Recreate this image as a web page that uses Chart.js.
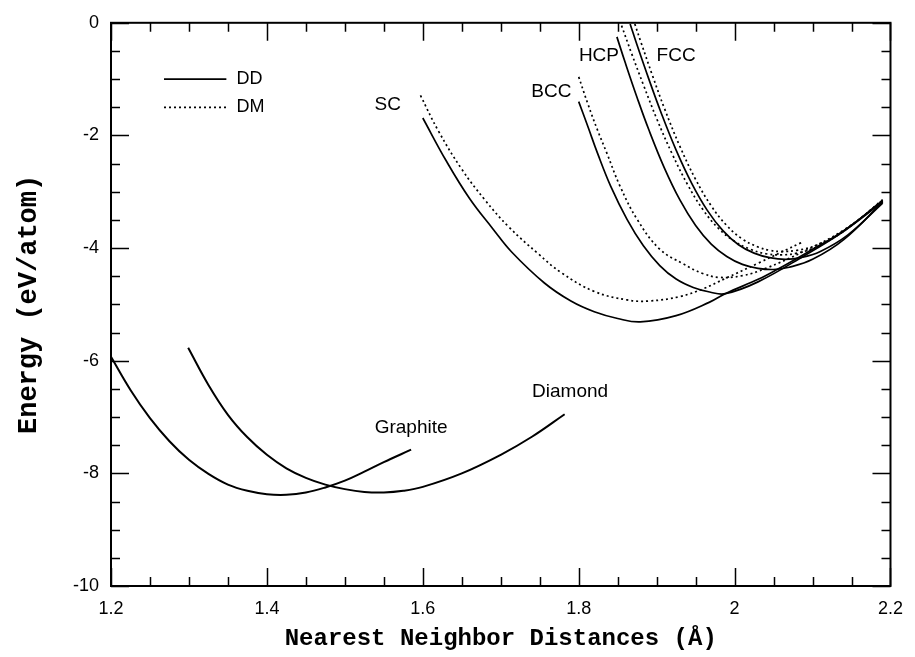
<!DOCTYPE html>
<html><head><meta charset="utf-8">
<script src="https://cdn.jsdelivr.net/npm/chart.js@4.4.1/dist/chart.umd.min.js"></script>
<style>html,body{margin:0;padding:0;background:#fff;} #wrap{width:915px;height:657px;}</style>
</head><body><div id="wrap"><canvas id="c" width="915" height="657"></canvas></div>
<script>
// ---- tick labels ----
const xTickValues = [1.2, 1.4, 1.6, 1.8, 2.0, 2.2];
const xTickLabels = ['1.2', '1.4', '1.6', '1.8', '2', '2.2'];
const yTickValues = [-10, -8, -6, -4, -2, 0];
const yTickLabels = ['-10', '-8', '-6', '-4', '-2', '0'];

// ---- curves (x = nearest neighbor distance, E = energy in eV/atom) ----
const graphiteX = [1.2, 1.225, 1.25, 1.275, 1.3, 1.325, 1.35, 1.375, 1.4, 1.425, 1.45, 1.475, 1.5, 1.525, 1.55, 1.585];
const graphiteE = [-5.93, -6.52, -7.02, -7.43, -7.76, -8.01, -8.2, -8.31, -8.37, -8.38, -8.34, -8.25, -8.13, -7.97, -7.8, -7.58];

const diamondX = [1.299, 1.325, 1.35, 1.375, 1.4, 1.425, 1.45, 1.475, 1.5, 1.525, 1.55, 1.575, 1.6, 1.65, 1.7, 1.74, 1.782];
const diamondE = [-5.77, -6.43, -6.96, -7.36, -7.67, -7.91, -8.08, -8.2, -8.28, -8.33, -8.34, -8.31, -8.24, -8.0, -7.67, -7.35, -6.95];

const scDDX = [1.6, 1.63, 1.66, 1.69, 1.714, 1.756, 1.79, 1.82, 1.85, 1.879, 1.925, 1.968, 1.988, 2.031, 2.052, 2.094, 2.137, 2.19];
const scDDE = [-1.69, -2.45, -3.12, -3.66, -4.07, -4.62, -4.94, -5.13, -5.25, -5.31, -5.2, -4.96, -4.81, -4.55, -4.4, -4.07, -3.72, -3.16];

const scDMX = [1.597, 1.62, 1.65, 1.68, 1.71, 1.748, 1.778, 1.82, 1.862, 1.89, 1.93, 1.96, 1.988, 2.03, 2.086];
const scDME = [-1.29, -1.92, -2.6, -3.15, -3.62, -4.1, -4.44, -4.77, -4.92, -4.94, -4.86, -4.72, -4.54, -4.27, -3.9];

const bccDDX = [1.8, 1.812, 1.824, 1.841, 1.862, 1.883, 1.904, 1.925, 1.947, 1.968, 1.988, 2.03, 2.09, 2.14, 2.19];
const bccDDE = [-1.4, -1.85, -2.31, -2.9, -3.49, -3.96, -4.31, -4.55, -4.7, -4.78, -4.81, -4.6, -4.13, -3.7, -3.18];

const bccDMX = [1.8, 1.812, 1.824, 1.836, 1.853, 1.875, 1.904, 1.934, 1.959, 1.98, 2.01, 2.04, 2.09, 2.14, 2.19];
const bccDME = [-0.96, -1.45, -1.9, -2.31, -2.9, -3.49, -4.02, -4.28, -4.45, -4.52, -4.49, -4.36, -4.05, -3.68, -3.16];

const hcpDDX = [1.849, 1.86, 1.875, 1.89, 1.91, 1.93, 1.95, 1.97, 1.99, 2.01, 2.03, 2.05, 2.07, 2.1, 2.14, 2.19];
const hcpDDE = [-0.25, -0.72, -1.33, -1.9, -2.58, -3.15, -3.6, -3.93, -4.15, -4.29, -4.36, -4.38, -4.34, -4.2, -3.85, -3.18];

const hcpDMX = [1.855, 1.868, 1.883, 1.9, 1.92, 1.94, 1.96, 1.98, 2.0, 2.02, 2.04, 2.06, 2.08, 2.105, 2.14, 2.19];
const hcpDME = [-0.05, -0.55, -1.1, -1.7, -2.33, -2.88, -3.33, -3.66, -3.88, -4.02, -4.1, -4.12, -4.09, -3.98, -3.7, -3.15];

const fccDDX = [1.866, 1.875, 1.89, 1.905, 1.925, 1.945, 1.965, 1.985, 2.005, 2.025, 2.045, 2.065, 2.085, 2.11, 2.145, 2.19];
const fccDDE = [-0.02, -0.4, -1.0, -1.57, -2.26, -2.85, -3.33, -3.69, -3.94, -4.09, -4.17, -4.2, -4.17, -4.06, -3.77, -3.2];

const fccDMX = [1.872, 1.88, 1.895, 1.91, 1.93, 1.95, 1.97, 1.99, 2.01, 2.03, 2.045, 2.06, 2.08, 2.105, 2.14, 2.19];
const fccDME = [-0.02, -0.35, -0.95, -1.52, -2.2, -2.78, -3.25, -3.6, -3.84, -3.98, -4.04, -4.06, -4.04, -3.95, -3.7, -3.14];

// ---- curve labels ----
const labelTexts = ['SC', 'BCC', 'HCP', 'FCC', 'Graphite', 'Diamond'];
const labelX = [1.555, 1.765, 1.826, 1.925, 1.585, 1.789];
const labelE = [-1.45, -1.22, -0.58, -0.58, -7.19, -6.56];

const legendTexts = ['DD', 'DM'];

function pts(xs, es) { return xs.map((x, i) => ({ x: x, y: es[i] })); }
const SOLID = [];
const DOTTED = [2, 3];
function ds(name, xs, es, dash, w) {
  return {
    label: name, data: pts(xs, es), showLine: true, borderColor: '#000',
    backgroundColor: '#000', borderWidth: w || 1.7, borderDash: dash,
    pointRadius: 0, pointHoverRadius: 0, tension: 0.4, fill: false
  };
}

const datasets = [
  ds('Graphite', graphiteX, graphiteE, SOLID, 2),
  ds('Diamond', diamondX, diamondE, SOLID, 2),
  ds('SC DD', scDDX, scDDE, SOLID),
  ds('SC DM', scDMX, scDME, DOTTED),
  ds('BCC DD', bccDDX, bccDDE, SOLID),
  ds('BCC DM', bccDMX, bccDME, DOTTED),
  ds('HCP DD', hcpDDX, hcpDDE, SOLID),
  ds('HCP DM', hcpDMX, hcpDME, DOTTED),
  ds('FCC DD', fccDDX, fccDDE, SOLID),
  ds('FCC DM', fccDMX, fccDME, DOTTED)
];

const framePlugin = {
  id: 'frame',
  afterDraw(chart) {
    const { ctx, chartArea: a, scales: { x, y } } = chart;
    ctx.save();
    ctx.strokeStyle = '#000';
    ctx.lineWidth = 2;
    ctx.strokeRect(a.left, a.top, a.right - a.left, a.bottom - a.top);
    ctx.lineWidth = 1.5;
    ctx.beginPath();
    for (let k = 0; k <= 20; k++) {
      const v = 1.2 + k * 0.05;
      const px = Math.round(x.getPixelForValue(v)) + 0.5;
      const len = (k % 4 === 0) ? 18 : 9;
      ctx.moveTo(px, a.bottom); ctx.lineTo(px, a.bottom - len);
      ctx.moveTo(px, a.top); ctx.lineTo(px, a.top + len);
    }
    for (let k = 0; k <= 20; k++) {
      const v = -10 + k * 0.5;
      const py = Math.round(y.getPixelForValue(v)) + 0.5;
      const len = (k % 4 === 0) ? 18 : 9;
      ctx.moveTo(a.left, py); ctx.lineTo(a.left + len, py);
      ctx.moveTo(a.right, py); ctx.lineTo(a.right - len, py);
    }
    ctx.stroke();
    ctx.restore();
  },
  afterDatasetsDraw(chart) {
    const { ctx, scales: { x, y } } = chart;
    ctx.save();
    ctx.fillStyle = '#000';
    ctx.font = '19px "Liberation Sans", Arial, sans-serif';
    ctx.textAlign = 'center';
    ctx.textBaseline = 'middle';
    labelTexts.forEach((t, i) => {
      ctx.fillText(t, x.getPixelForValue(labelX[i]), y.getPixelForValue(labelE[i]));
    });
    // legend
    ctx.strokeStyle = '#000';
    ctx.lineWidth = 1.7;
    const lx0 = x.getPixelForValue(1.268), lx1 = x.getPixelForValue(1.348);
    const ly = [y.getPixelForValue(-1.0), y.getPixelForValue(-1.5)];
    ctx.setLineDash([]);
    ctx.beginPath(); ctx.moveTo(lx0, ly[0]); ctx.lineTo(lx1, ly[0]); ctx.stroke();
    ctx.setLineDash(DOTTED);
    ctx.beginPath(); ctx.moveTo(lx0, ly[1]); ctx.lineTo(lx1, ly[1]); ctx.stroke();
    ctx.setLineDash([]);
    ctx.font = '18px "Liberation Sans", Arial, sans-serif';
    ctx.textAlign = 'left';
    const tx = x.getPixelForValue(1.361);
    ctx.fillText(legendTexts[0], tx, ly[0]);
    ctx.fillText(legendTexts[1], tx, ly[1]);
    ctx.restore();
  }
};

new Chart(document.getElementById('c'), {
  type: 'scatter',
  data: { datasets: datasets },
  options: {
    responsive: false, animation: false, devicePixelRatio: 1,
    layout: { padding: { top: 19, right: 15, left: 0, bottom: 0 } },
    plugins: { legend: { display: false }, tooltip: { enabled: false } },
    scales: {
      x: {
        type: 'linear', min: 1.2, max: 2.2,
        afterBuildTicks: s => { s.ticks = xTickValues.map(v => ({ value: v })); },
        afterFit: s => { s.height = 71; },
        grid: { display: false, drawTicks: false },
        border: { display: false },
        ticks: {
          padding: 12, color: '#000', maxRotation: 0, autoSkip: false,
          font: { family: '"Liberation Sans", Arial, sans-serif', size: 18 },
          callback: (v, i) => xTickLabels[i]
        },
        title: {
          display: true, text: 'Nearest Neighbor Distances (Å)', color: '#000',
          font: { family: '"Liberation Mono", "Courier New", monospace', size: 24, weight: 'bold' },
          padding: { top: 0, bottom: 4 }
        }
      },
      y: {
        type: 'linear', min: -10, max: 0,
        afterBuildTicks: s => { s.ticks = yTickValues.map(v => ({ value: v })); },
        afterFit: s => { s.width = 111; },
        grid: { display: false, drawTicks: false },
        border: { display: false },
        ticks: {
          padding: 12, color: '#000', autoSkip: false,
          font: { family: '"Liberation Sans", Arial, sans-serif', size: 18 },
          callback: (v, i) => yTickLabels[i]
        },
        title: {
          display: true, text: 'Energy (eV/atom)', color: '#000',
          font: { family: '"Liberation Mono", "Courier New", monospace', size: 27, weight: 'bold' },
          padding: { top: 13, bottom: 0 }
        }
      }
    }
  },
  plugins: [framePlugin]
});
</script>
</body></html>
